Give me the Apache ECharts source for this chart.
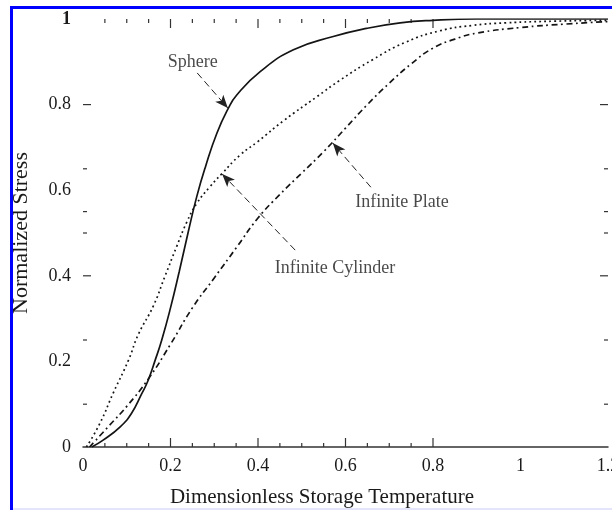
<!DOCTYPE html>
<html>
<head>
<meta charset="utf-8">
<script src="https://cdn.jsdelivr.net/npm/echarts@6/dist/echarts.min.js"></script>
<style>
html,body{margin:0;padding:0;background:#fff;}
#chart{width:612px;height:510px;}
</style>
</head>
<body>
<div id="chart"></div>
<script>
// ---- data ----
const sphere = [[0.02,0],[0.046,0.016],[0.085,0.047],[0.111,0.079],[0.134,0.124],[0.149,0.156],[0.165,0.203],[0.18,0.25],[0.2,0.325],[0.22,0.41],[0.24,0.5],[0.26,0.585],[0.28,0.655],[0.306,0.733],[0.332,0.791],[0.351,0.822],[0.405,0.877],[0.481,0.928],[0.572,0.959],[0.648,0.978],[0.725,0.991],[0.8,0.997],[0.9,1.0],[1.0,1.0],[1.2,1.0]];
const cylinder = [[0.008,0],[0.039,0.056],[0.069,0.126],[0.104,0.203],[0.126,0.262],[0.161,0.33],[0.187,0.398],[0.214,0.468],[0.237,0.525],[0.26,0.569],[0.29,0.608],[0.317,0.638],[0.359,0.682],[0.40,0.714],[0.458,0.762],[0.534,0.818],[0.586,0.856],[0.662,0.905],[0.738,0.946],[0.814,0.972],[0.89,0.985],[0.967,0.991],[1.08,0.995],[1.2,0.997]];
const plate = [[0.015,0],[0.06,0.05],[0.1,0.095],[0.15,0.16],[0.2,0.24],[0.25,0.325],[0.3,0.395],[0.35,0.465],[0.4,0.535],[0.45,0.59],[0.5,0.64],[0.55,0.69],[0.6,0.745],[0.65,0.8],[0.7,0.85],[0.75,0.895],[0.8,0.932],[0.85,0.953],[0.9,0.967],[1.0,0.98],[1.1,0.988],[1.2,0.994]];

const xMinorTicks = [0.05,0.1,0.15,0.25,0.3,0.35,0.45,0.5,0.55,0.65,0.7,0.75];
const xMajorTicks = [0.2,0.4,0.6,0.8];
const yMinorTicks = [0.1,0.25,0.5,0.55,0.65];
const yMajorTicks = [0.4,0.8];

const annoNames = ['Sphere','Infinite Cylinder','Infinite Plate'];
const annoText = [[0.251,0.9],[0.576,0.418],[0.729,0.572]];
const annoFrom = [[0.261,0.874],[0.485,0.46],[0.658,0.607]];
const annoTo = [[0.331,0.792],[0.318,0.638],[0.571,0.71]];

const xTitle = 'Dimensionless Storage Temperature';
const yTitle = 'Normalized Stress';

// ---- chart ----
const chart = echarts.init(document.getElementById('chart'), null, {renderer:'canvas'});
const FONT = '"Liberation Serif","Times New Roman",serif';
const INK = '#141414';
const TXT = '#1a1a1a';

function xTickItem(v, major){ return [v, 0, major]; }
function yTickItem(v, major){ return [0, v, major]; }
const xTickData = xMinorTicks.map(v=>xTickItem(v,0)).concat(xMajorTicks.map(v=>xTickItem(v,1)));
const yTickData = yMinorTicks.map(v=>yTickItem(v,0)).concat(yMajorTicks.map(v=>yTickItem(v,1)));

const tickStyle = {stroke:'#333', lineWidth:1.2};

const option = {
  animation:false,
  backgroundColor:'#fff',
  grid:{left:83, right:4, top:19, bottom:63, containLabel:false, outerBoundsMode:'none'},
  xAxis:{
    type:'value', min:0, max:1.2, interval:0.2,
    axisLine:{show:true, onZero:false, lineStyle:{color:'#333', width:1.5}},
    axisTick:{show:false}, splitLine:{show:false},
    axisLabel:{fontFamily:FONT, fontSize:18, color:TXT, margin:10}
  },
  yAxis:{
    type:'value', min:0, max:1, interval:0.2,
    axisLine:{show:false}, axisTick:{show:false}, splitLine:{show:false},
    axisLabel:{fontFamily:FONT, fontSize:18, color:TXT, margin:12,
      formatter:function(v){ return v===1 ? '{b|1}' : String(v); },
      rich:{b:{fontFamily:FONT, fontSize:18, fontWeight:'bold', color:TXT}}}
  },
  graphic:[
    {type:'rect', shape:{x:10, y:6, width:3, height:504}, style:{fill:'#0000ff'}, z:100},
    {type:'rect', shape:{x:10, y:6, width:602, height:3}, style:{fill:'#0000ff'}, z:100},
    {type:'rect', shape:{x:13, y:508, width:599, height:2}, style:{fill:'#e4e4fb'}, z:100},
    {type:'text', x:322, y:497, style:{text:xTitle, font:'21px '+FONT, fill:TXT, textAlign:'center', textVerticalAlign:'middle'}},
    {type:'text', x:21, y:233, rotation:Math.PI/2, style:{text:yTitle, font:'22px '+FONT, fill:TXT, textAlign:'center', textVerticalAlign:'middle'}}
  ],
  series:[
    {type:'line', name:'Sphere', data:sphere, showSymbol:false, smooth:0.5,
      lineStyle:{color:INK, width:1.7, type:'solid'},
      markLine:{silent:true, symbol:['none','arrow'], symbolSize:[8,13],
        label:{show:false},
        itemStyle:{color:'#111'},
        lineStyle:{color:'#222', width:1, type:[7,4]},
        data: annoFrom.map((f,i)=>[{coord:f},{coord:annoTo[i]}])}
    },
    {type:'line', name:'Infinite Cylinder', data:cylinder, showSymbol:false, smooth:0.5,
      lineStyle:{color:INK, width:1.7, type:[1.8,3.2]}},
    {type:'line', name:'Infinite Plate', data:plate, showSymbol:false, smooth:0.5,
      lineStyle:{color:INK, width:1.7, type:[6,3.5,1.8,3.5]}},
    {type:'scatter', data:annoText.map((p,i)=>({value:p, name:annoNames[i]})), symbolSize:0, silent:true,
      label:{show:true, position:'inside', formatter:'{b}', fontFamily:FONT, fontSize:18, color:TXT}},
    {type:'custom', data:xTickData, silent:true, clip:false,
      renderItem:function(params, api){
        const v = api.value(0), major = api.value(2);
        const len = major ? 9 : 4;
        const b = api.coord([v,0]), t = api.coord([v,1]);
        return {type:'group', children:[
          {type:'line', shape:{x1:b[0], y1:b[1], x2:b[0], y2:b[1]-len}, style:tickStyle},
          {type:'line', shape:{x1:t[0], y1:t[1], x2:t[0], y2:t[1]+len}, style:tickStyle}
        ]};
      }},
    {type:'custom', data:yTickData, silent:true, clip:false,
      renderItem:function(params, api){
        const v = api.value(1), major = api.value(2);
        const len = major ? 8 : 4;
        const l = api.coord([0,v]), r = api.coord([1.2,v]);
        return {type:'group', children:[
          {type:'line', shape:{x1:l[0], y1:l[1], x2:l[0]+len, y2:l[1]}, style:tickStyle},
          {type:'line', shape:{x1:r[0], y1:r[1], x2:r[0]-len, y2:r[1]}, style:tickStyle}
        ]};
      }}
  ]
};
chart.setOption(option);
</script>
</body>
</html>
